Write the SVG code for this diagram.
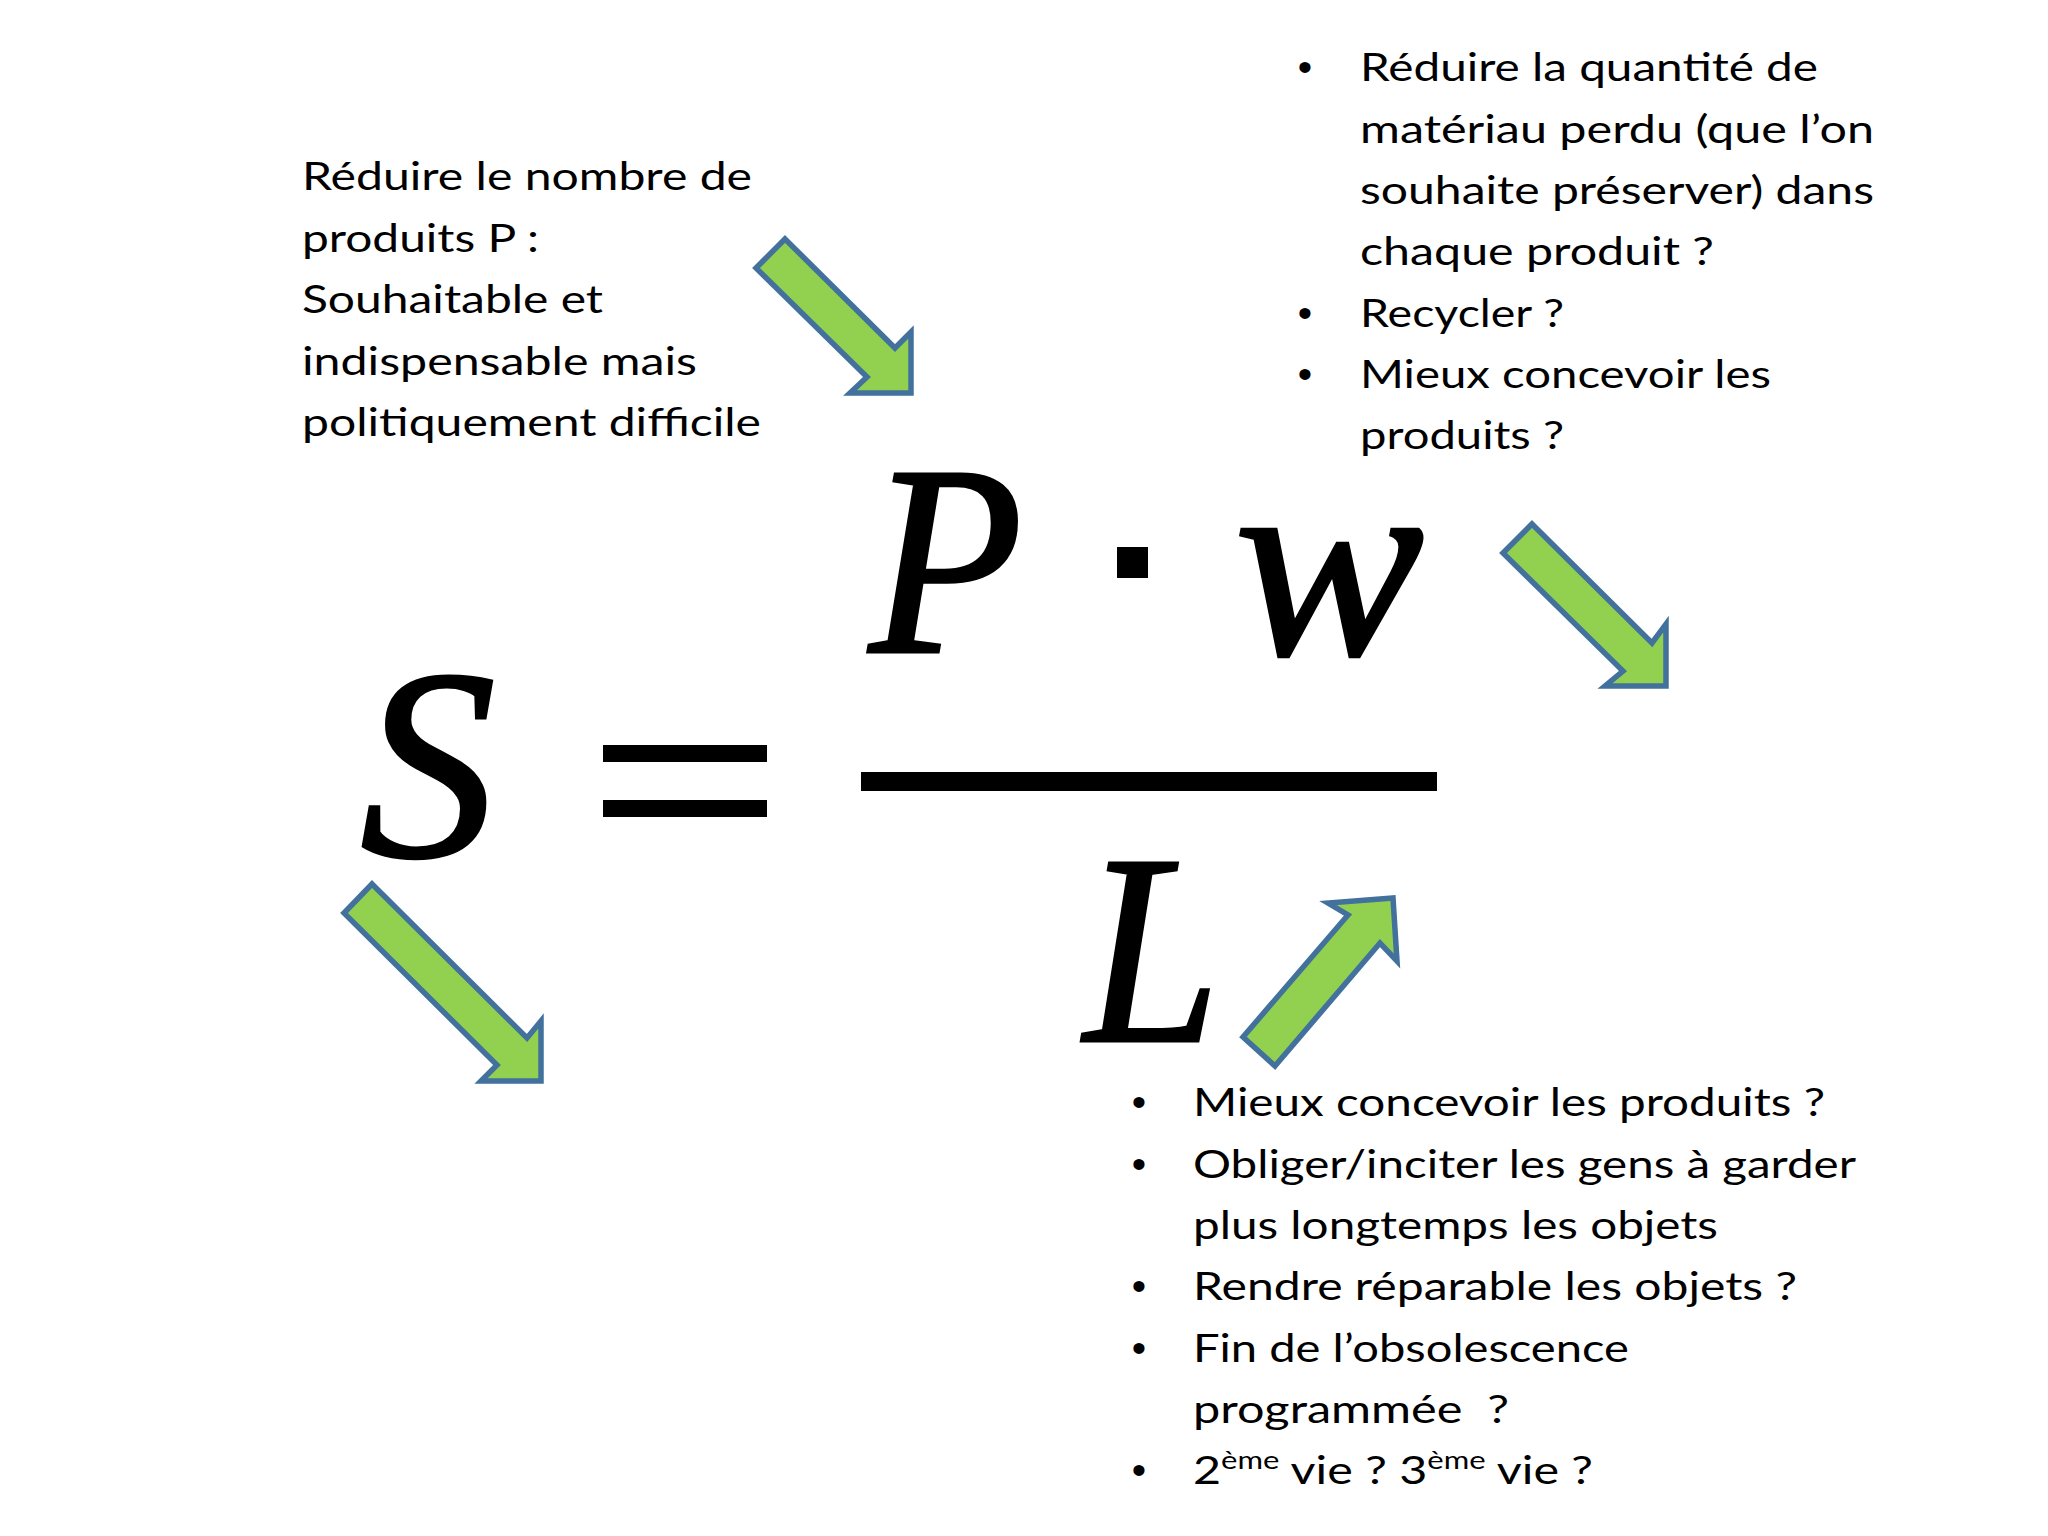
<svg xmlns="http://www.w3.org/2000/svg" width="2048" height="1536" viewBox="0 0 2048 1536">
<style>
.t{font-family:Lato,"Open Sans","Liberation Sans",sans-serif;font-size:39px;fill:#000;}
.b{font-family:"Liberation Sans",Arial,sans-serif;font-size:41px;fill:#000;text-anchor:middle;}
.m{font-family:"Liberation Serif","Times New Roman",serif;font-style:italic;font-size:272px;fill:#000;stroke:#000;stroke-width:3;text-anchor:middle;}
.arr{fill:#92D050;stroke:#41719C;stroke-width:5.5;stroke-linejoin:miter;}
.sup{font-size:25px;}
</style>
<rect x="0" y="0" width="2048" height="1536" fill="#ffffff"/>

<g id="formula">
  <text class="m" x="428" y="856">S</text>
  <rect x="603" y="745" width="164" height="17" fill="#000"/>
  <rect x="603" y="800" width="164" height="17" fill="#000"/>
  <text class="m" x="946" y="652" textLength="154" lengthAdjust="spacingAndGlyphs">P</text>
  <rect x="1117" y="547" width="31" height="31" fill="#000"/>
  <text class="m" x="1329" y="654" textLength="190" lengthAdjust="spacingAndGlyphs">w</text>
  <rect x="861" y="772" width="576" height="19" fill="#000"/>
  <text class="m" x="1152" y="1041" textLength="136" lengthAdjust="spacingAndGlyphs">L</text>
</g>

<g id="note-P">
  <text class="t" x="302" y="190" textLength="450" lengthAdjust="spacingAndGlyphs">Réduire le nombre de</text>
  <text class="t" x="302" y="251.5" textLength="237" lengthAdjust="spacingAndGlyphs">produits P :</text>
  <text class="t" x="302" y="313" textLength="301" lengthAdjust="spacingAndGlyphs">Souhaitable et</text>
  <text class="t" x="302" y="374.5" textLength="395" lengthAdjust="spacingAndGlyphs">indispensable mais</text>
  <text class="t" x="302" y="436" textLength="459" lengthAdjust="spacingAndGlyphs">politiquement difficile</text>
</g>

<g id="note-w">
  <text class="b" x="1305" y="81">•</text>
  <text class="b" x="1305" y="326.5">•</text>
  <text class="b" x="1305" y="388">•</text>
  <text class="t" x="1360" y="81" textLength="458" lengthAdjust="spacingAndGlyphs">Réduire la quantité de</text>
  <text class="t" x="1360" y="142.5" textLength="514" lengthAdjust="spacingAndGlyphs">matériau perdu (que l’on</text>
  <text class="t" x="1360" y="204" textLength="514" lengthAdjust="spacingAndGlyphs">souhaite préserver) dans</text>
  <text class="t" x="1360" y="265" textLength="354" lengthAdjust="spacingAndGlyphs">chaque produit ?</text>
  <text class="t" x="1360" y="326.5" textLength="204" lengthAdjust="spacingAndGlyphs">Recycler ?</text>
  <text class="t" x="1360" y="388" textLength="411" lengthAdjust="spacingAndGlyphs">Mieux concevoir les</text>
  <text class="t" x="1360" y="449" textLength="204" lengthAdjust="spacingAndGlyphs">produits ?</text>
</g>

<g id="note-L">
  <text class="b" x="1139" y="1116">•</text>
  <text class="b" x="1139" y="1177.5">•</text>
  <text class="b" x="1139" y="1300">•</text>
  <text class="b" x="1139" y="1361.5">•</text>
  <text class="b" x="1139" y="1484">•</text>
  <text class="t" x="1193" y="1116" textLength="632" lengthAdjust="spacingAndGlyphs">Mieux concevoir les produits ?</text>
  <text class="t" x="1193" y="1177.5" textLength="663" lengthAdjust="spacingAndGlyphs">Obliger/inciter les gens à garder</text>
  <text class="t" x="1193" y="1239" textLength="525" lengthAdjust="spacingAndGlyphs">plus longtemps les objets</text>
  <text class="t" x="1193" y="1300" textLength="604" lengthAdjust="spacingAndGlyphs">Rendre réparable les objets ?</text>
  <text class="t" x="1193" y="1361.5" textLength="436" lengthAdjust="spacingAndGlyphs">Fin de l’obsolescence</text>
  <text class="t" x="1193" y="1423" textLength="316" lengthAdjust="spacingAndGlyphs" style="white-space:pre">programmée  ?</text>
  <text class="t" x="1193" y="1484" textLength="400" lengthAdjust="spacingAndGlyphs">2<tspan class="sup" dy="-15">ème</tspan><tspan dy="15"> vie ? 3</tspan><tspan class="sup" dy="-15">ème</tspan><tspan dy="15"> vie ?</tspan></text>
</g>

<g id="connectors">
  <polygon id="arrow-P" class="arr" points="785,239 895,348 911,332 911,393 850,393 867,377 756,268"/>
  <polygon id="arrow-w" class="arr" points="1532,524 1652,643 1666,624 1666,686 1605,686 1623,671 1503,553"/>
  <polygon id="arrow-S" class="arr" points="372,884 527,1038 541,1021 541,1081 481,1081 497,1065 344,913"/>
  <polygon id="arrow-L" class="arr" points="1275,1066 1380,943 1397,961 1393,898 1328,903 1348,915 1243,1037"/>
</g>
</svg>
